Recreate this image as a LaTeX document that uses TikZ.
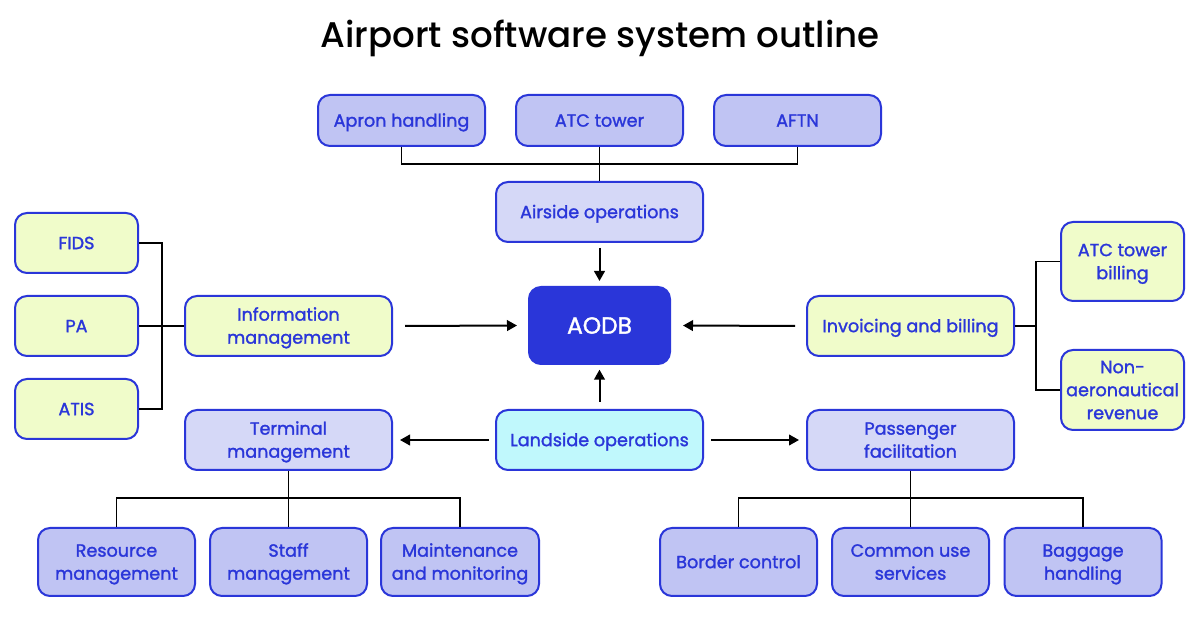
\documentclass[tikz,border=0pt]{standalone}
\usepackage{fontspec}
\setmainfont{Poppins}
\newfontfamily\titlefont{Poppins Medium}
\newfontfamily\boxfont{Poppins}[FakeBold=1.5]
\usetikzlibrary{arrows.meta}
\definecolor{bl}{RGB}{42,54,217}
\definecolor{leaf}{RGB}{192,196,243}
\definecolor{mid}{RGB}{213,216,247}
\definecolor{grn}{RGB}{240,252,202}
\definecolor{cyn}{RGB}{192,248,252}
\newcommand{\bxstrut}{\rule[-0.3em]{0pt}{1.3em}}
\begin{document}
\begin{tikzpicture}[x=0.75pt,y=-0.75pt,
  box/.style={draw=bl, line width=1.5pt, rounded corners=9pt, text=bl, align=center,
    font=\boxfont\fontsize{13.2}{17.25}\selectfont, inner sep=0pt,
    execute at begin node={\bxstrut}, execute at end node={\bxstrut}},
  sz/.style 2 args={minimum width=#1*0.75pt, minimum height=#2*0.75pt},
  con/.style={line width=1pt, black},
  arr/.style={line width=1.5pt, black, -{Triangle[length=7.5pt,width=8pt]}}]
\useasboundingbox (0,0) rectangle (1200,630);
\fill[white] (0,0) rectangle (1200,630);
\node[font=\titlefont\fontsize{26.7}{30}\selectfont, anchor=base, inner sep=0pt] (title) at (600,47.3) {Airport software system outline};
% top
\node[box, fill=leaf, sz={167}{51}] (apron) at (401.5,120.5) {Apron handling};
\node[box, fill=leaf, sz={167}{51}] (atc) at (599.5,120.5) {ATC tower};
\node[box, fill=leaf, sz={167}{51}] (aftn) at (797.5,120.5) {AFTN};
\node[box, fill=mid, sz={207}{60}] (air) at (599.5,212) {Airside operations};
% center
\node[box, fill=bl, text=white, sz={141}{77}, font=\boxfont\fontsize{17.5}{21}\selectfont] (aodb) at (599.5,325.5) {AODB};
\node[box, fill=grn, sz={207}{60}] (info) at (288.5,326) {\bxstrut Information\\management};
\node[box, fill=grn, sz={207}{60}] (inv) at (910.5,326) {Invoicing and billing};
% left
\node[box, fill=grn, sz={123}{60}] (fids) at (76.5,243) {FIDS};
\node[box, fill=grn, sz={123}{60}] (pa) at (76.5,326) {PA};
\node[box, fill=grn, sz={123}{60}] (atis) at (76.5,409) {ATIS};
% right
\node[box, fill=grn, sz={123}{79}] (atcb) at (1122.5,261.5) {\bxstrut ATC tower\\billing};
\node[box, fill=grn, sz={123}{80}] (nonaero) at (1122.5,390) {\bxstrut Non-\\aeronautical\\revenue};
% landside row
\node[box, fill=cyn, sz={207}{60}] (land) at (599.5,440) {Landside operations};
\node[box, fill=mid, sz={207}{60}] (term) at (288.5,440) {\bxstrut Terminal\\management};
\node[box, fill=mid, sz={207}{60}] (pass) at (910.5,440) {\bxstrut Passenger\\facilitation};
% bottom
\node[box, fill=leaf, sz={157}{68}] (res) at (116.5,562) {\bxstrut Resource\\management};
\node[box, fill=leaf, sz={157}{68}] (staff) at (288.5,562) {\bxstrut Staff\\management};
\node[box, fill=leaf, sz={158}{68}] (maint) at (460,562) {\bxstrut Maintenance\\and monitoring};
\node[box, fill=leaf, sz={157}{68}] (border) at (738.5,562) {Border control};
\node[box, fill=leaf, sz={157}{68}] (common) at (910.5,562) {\bxstrut Common use\\services};
\node[box, fill=leaf, sz={157}{68}] (bag) at (1083,562) {\bxstrut Baggage\\handling};
% junctions
\coordinate (jt) at (599.5,164);
\coordinate (jl) at (162,326);
\coordinate (jr) at (1036,326);
\coordinate (jbl) at (288.5,498);
\coordinate (jbr) at (910.5,498);
% tree connectors
\draw[con] (apron.south) |- (jt) -| (aftn.south);
\draw[con] (atc.south) -- (air.north);
\draw[con] (fids.east) -| (jl) |- (atis.east);
\draw[con] (pa.east) -- (info.west);
\draw[con] (atcb.west) -| (jr) |- (nonaero.west);
\draw[con] (inv.east) -- (jr);
\draw[con] (res.north) |- (jbl) -| (maint.north);
\draw[con] (term.south) -- (staff.north);
\draw[con] (border.north) |- (jbr) -| (bag.north);
\draw[con] (pass.south) -- (common.north);
% arrows
\draw[arr, shorten <=3.75pt, shorten >=3.75pt] (air.south) -- (aodb.north);
\draw[arr, shorten <=9pt, shorten >=8.25pt] (info.east) -- (aodb.west);
\draw[arr, shorten <=8.25pt, shorten >=9pt] (inv.west) -- (aodb.east);
\draw[arr, shorten <=5.25pt, shorten >=3.5pt] (land.north) -- (aodb.south);
\draw[arr, shorten <=4.5pt, shorten >=5.25pt] (land.west) -- (term.east);
\draw[arr, shorten <=5.25pt, shorten >=5.25pt] (land.east) -- (pass.west);
\end{tikzpicture}
\end{document}
